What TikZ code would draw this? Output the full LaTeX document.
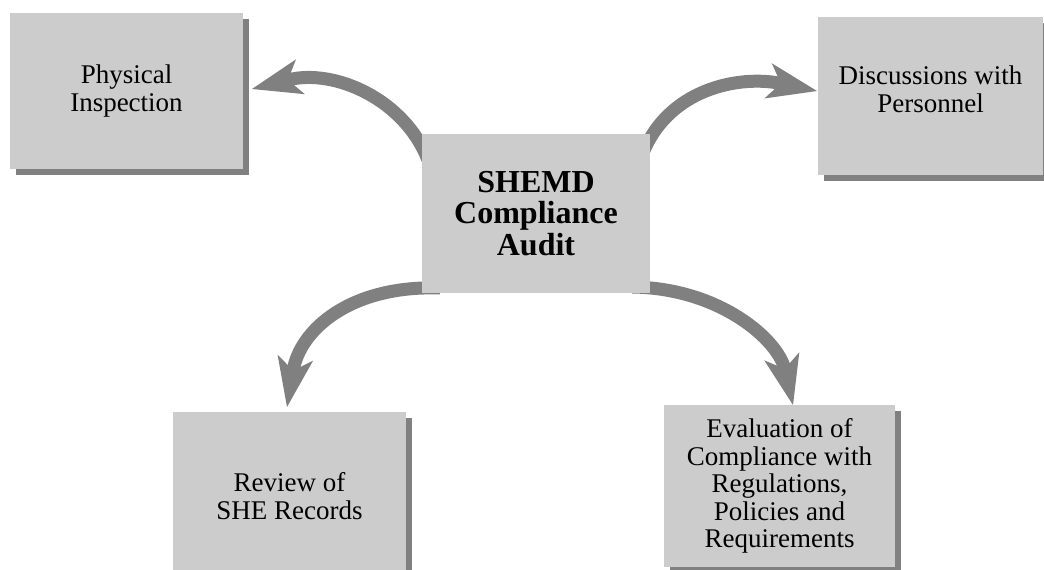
\documentclass[tikz,border=0pt]{standalone}
\usepackage{fontspec}
\setmainfont{Liberation Serif}
\usetikzlibrary{arrows.meta,shadows}
\definecolor{boxgray}{HTML}{CCCCCC}
\definecolor{darkgray}{HTML}{808080}
\tikzset{
  box/.style={fill=boxgray, draw=none, inner sep=0pt, align=center,
    font=\fontsize{27pt}{27.5pt}\selectfont},
  shadowbox/.style={box, drop shadow={shadow xshift=6pt, shadow yshift=-6pt, fill=darkgray, opacity=1}},
  centerbox/.style={box, font=\fontsize{32pt}{31.5pt}\selectfont\bfseries},
  bigarrow/.style={draw=darkgray, line width=13pt,
    -{Stealth[length=50pt,width=36pt,inset=13pt,line width=0pt,fill=darkgray]}}
}
\begin{document}
\begin{tikzpicture}[x=1pt,y=-1pt]
\clip (0,0) rectangle (1044,570);
% arrows first (boxes cover their start)
\coordinate (s1) at (428,160);
\coordinate (s2) at (641,158);
\coordinate (s3) at (440,288);
\coordinate (s4) at (632,287);
\coordinate (e1) at (252,89);
\coordinate (e2) at (817,91);
\coordinate (e3) at (287,407);
\coordinate (e4) at (793,405);
\draw[bigarrow] (s1) .. controls (405,100) and (335,68) .. (e1);
\draw[bigarrow] (s2) .. controls (666,88) and (740,75) .. (e2);
\draw[bigarrow] (s3) .. controls (350,285) and (300,330) .. (e3);
\draw[bigarrow] (s4) .. controls (720,288) and (778,340) .. (e4);
% boxes
\node[shadowbox, minimum width=233pt, minimum height=156pt] (pi) at (126.5,91) {Physical\\Inspection};
\node[shadowbox, minimum width=225pt, minimum height=158pt, text depth=14pt] (dp) at (930.5,96) {Discussions with\\Personnel};
\node[centerbox, minimum width=228pt, minimum height=159pt] (c) at (536,213.5) {SHEMD\\Compliance\\Audit};
\node[shadowbox, minimum width=233pt, minimum height=168pt] (rv) at (289.5,496) {Review of\\SHE Records};
\node[shadowbox, minimum width=231pt, minimum height=162pt] (ev) at (779.5,486) {Evaluation of\\Compliance with\\Regulations,\\Policies and\\Requirements};
\end{tikzpicture}
\end{document}
